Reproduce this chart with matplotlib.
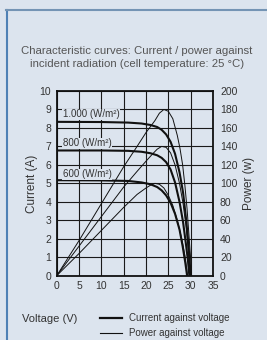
import matplotlib
matplotlib.use("Agg")
import matplotlib.pyplot as plt
from matplotlib.lines import Line2D

# ---- data ----
v_i1000 = [0, 10, 16, 19, 21, 22.5, 23.5, 24.5, 25.5, 26.5, 27.5, 28.3, 29, 29.5, 30.0]
i_1000 = [8.33, 8.32, 8.29, 8.24, 8.16, 8.05, 7.9, 7.65, 7.25, 6.6, 5.6, 4.5, 3.0, 1.7, 0]
v_i800 = [0, 10, 16, 19, 21, 22.5, 23.5, 24.5, 25.5, 26.5, 27.5, 28.3, 29, 29.4, 29.7]
i_800 = [6.78, 6.78, 6.76, 6.71, 6.63, 6.52, 6.38, 6.15, 5.75, 5.05, 4.0, 2.9, 1.6, 0.8, 0]
v_i600 = [0, 10, 16, 19, 21, 22.5, 23.5, 24.5, 25.5, 26.5, 27.5, 28.2, 28.8, 29.2]
i_600 = [5.17, 5.16, 5.13, 5.05, 4.95, 4.8, 4.62, 4.35, 3.95, 3.35, 2.5, 1.6, 0.7, 0]

v_p1000 = [0, 5, 10, 15, 18, 20, 22, 23, 24, 25, 26, 27, 27.6, 28.2, 28.7, 29.2, 29.6, 30.0, 30.2]
p_1000 = [0, 38, 78, 118, 140, 155, 168, 176, 180, 178, 170, 152, 138, 120, 98, 72, 45, 18, 0]
v_p800 = [0, 5, 10, 15, 18, 20, 21.5, 22.5, 23.5, 24.5, 25.5, 26.5, 27.5, 28.3, 29, 29.5, 29.8]
p_800 = [0, 32, 64, 96, 113, 124, 132, 137, 140, 139, 133, 120, 100, 78, 52, 25, 0]
v_p600 = [0, 5, 10, 15, 18, 20, 21, 22, 23, 24, 25, 26, 27, 28, 28.7, 29.3]
p_600 = [0, 24, 49, 74, 88, 95, 98, 100, 99, 95, 87, 76, 60, 40, 22, 0]

irradiance_labels = ["1.000 (W/m²)", "800 (W/m²)", "600 (W/m²)"]
label_y = [8.74, 7.17, 5.49]

x_ticks = [0, 5, 10, 15, 20, 25, 30, 35]
y_ticks = list(range(0, 11))
p_ticks = list(range(0, 201, 20))

title = "Characteristic curves: Current / power against\nincident radiation (cell temperature: 25 °C)"

# ---- style ----
BG = "#dce4ee"
TXT = "#333333"
W, H = 267, 340
narrow = ["Liberation Sans Narrow", "Liberation Sans", "DejaVu Sans"]
reg = ["Liberation Sans", "DejaVu Sans"]

fig = plt.figure(figsize=(W / 100, H / 100), dpi=100, facecolor=BG)

# panel border
fig.add_artist(Line2D([6.5 / W, 6.5 / W], [0, 1 - 10 / H], transform=fig.transFigure,
                      color="#4f81b5", lw=1.5))
fig.add_artist(Line2D([6 / W, 1], [1 - 10 / H, 1 - 10 / H], transform=fig.transFigure,
                      color="#7494b4", lw=1.5))

fig.text(137 / W, 1 - 57.5 / H, title, ha="center", va="center", fontsize=8.2,
         color="#555555", family=narrow, linespacing=1.3)

ax_l, ax_r, ax_t, ax_b = 56.7, 213, 91, 275.7
ax = fig.add_axes([ax_l / W, 1 - ax_b / H, (ax_r - ax_l) / W, (ax_b - ax_t) / H])
ax.set_facecolor(BG)
ax.set_xlim(0, 35)
ax.set_ylim(0, 10)
ax.set_xticks(x_ticks)
ax.set_yticks(y_ticks)
ax.grid(True, color="#1a1a1a", lw=0.8)
ax.set_axisbelow(True)
for s in ax.spines.values():
    s.set_linewidth(1.3)
    s.set_color("#111111")
ax.tick_params(length=0, labelsize=7.5, labelcolor=TXT)
ax.tick_params(axis="x", pad=4)
ax.tick_params(axis="y", pad=4)
for lab in ax.get_xticklabels() + ax.get_yticklabels():
    lab.set_family(reg)
ax.set_ylabel("Current (A)", fontsize=8.5, color=TXT, family=reg, labelpad=1)

ax2 = ax.twinx()
ax2.set_ylim(0, 200)
ax2.set_yticks(p_ticks)
ax2.tick_params(length=0, pad=5, labelsize=7.5, labelcolor=TXT)
for lab in ax2.get_yticklabels():
    lab.set_family(reg)
ax2.set_ylabel("Power (w)", fontsize=8.5, color=TXT, family=reg, labelpad=4)
for s in ax2.spines.values():
    s.set_visible(False)

# power curves (thin)
for v, p in [(v_p1000, p_1000), (v_p800, p_800), (v_p600, p_600)]:
    ax2.plot(v, p, color="#111111", lw=0.7, solid_joinstyle="round")
# current curves (thick)
for v, i in [(v_i1000, i_1000), (v_i800, i_800), (v_i600, i_600)]:
    ax2.plot(v, [x * 20 for x in i], color="#111111", lw=1.5, solid_joinstyle="round")

for lab, y in zip(irradiance_labels, label_y):
    ax2.text(1.3, y * 20, lab, fontsize=7, color=TXT, family=reg, va="center", ha="left",
             bbox=dict(boxstyle="square,pad=0.05", fc=BG, ec="none"), zorder=5)

# bottom label and legend
fig.text(22 / W, 1 - 319 / H, "Voltage (V)", fontsize=8, color=TXT, family=narrow,
         ha="left", va="center")
fig.add_artist(Line2D([100 / W, 122 / W], [1 - 318 / H] * 2, transform=fig.transFigure,
                      color="#111111", lw=1.6))
fig.add_artist(Line2D([100 / W, 122 / W], [1 - 333 / H] * 2, transform=fig.transFigure,
                      color="#111111", lw=0.8))
fig.text(129 / W, 1 - 318 / H, "Current against voltage", fontsize=7, color=TXT,
         family=narrow, ha="left", va="center")
fig.text(129 / W, 1 - 333 / H, "Power against voltage", fontsize=7, color=TXT,
         family=narrow, ha="left", va="center")

fig.savefig("out.png", dpi=100, facecolor=BG)
